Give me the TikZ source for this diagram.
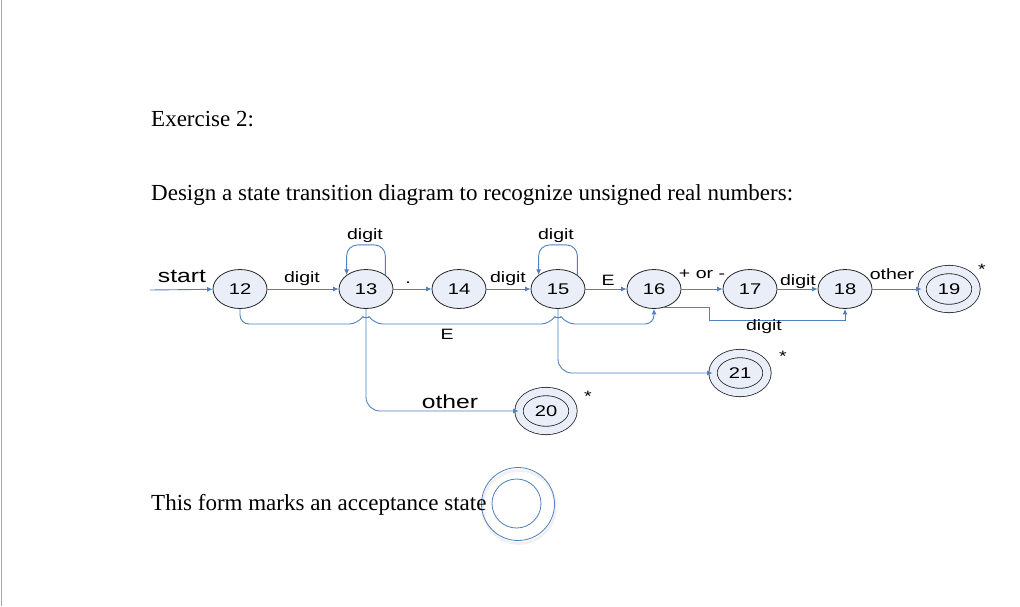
\documentclass[tikz,border=0pt]{standalone}
\usepackage{fontspec}
\setmainfont{Liberation Serif}
\newfontfamily\labfont[FakeStretch=1.3]{Liberation Sans}
\usetikzlibrary{shapes.geometric,arrows.meta}
\definecolor{edgeblue}{RGB}{79,129,189}
\definecolor{statefill}{RGB}{233,238,248}
\begin{document}
\begin{tikzpicture}[x=1pt,y=-1pt,
  state/.style={ellipse, draw=black!85, fill=statefill, line width=0.8pt,
    minimum width=54pt, minimum height=39pt, inner sep=0pt,
    font=\labfont\fontsize{15.5}{15.5}\selectfont},
  accept/.style={state, double=statefill, double distance=7.5pt, line width=0.8pt},
  conn/.style={draw=edgeblue, line width=0.9pt, -{Latex[length=5.5pt,width=5pt]}},
  lab/.style={font=\labfont\fontsize{15}{15}\selectfont, inner sep=0pt, anchor=base},
  biglab/.style={lab, font=\labfont\fontsize{19}{19}\selectfont},
  serif/.style={font=\fontsize{23}{27}\selectfont, inner sep=0pt, anchor=base west}]
\useasboundingbox (0,0) rectangle (1020,606);
\fill[white] (0,0) rectangle (1020,606);
\draw[black!35, line width=1.4pt] (1.2,0) -- (1.2,606);

% legend circle (drawn first, text lies over it)
\node[circle, draw=black!6, line width=2.5pt, minimum size=73pt, inner sep=0pt] (legshadow) at (519,507) {};
\node[circle, draw=edgeblue, line width=0.8pt, minimum size=73pt, inner sep=0pt] (leg) at (518,504) {};
\node[circle, draw=edgeblue, line width=0.8pt, minimum size=49pt, inner sep=0pt] (legin) at (516.5,503.5) {};

% texts
\node[serif] (t1) at (151,126) {Exercise 2:};
\node[serif] (t2) at (151,200) {Design a state transition diagram to recognize unsigned real numbers:};
\node[serif] (t3) at (151,510) {This form marks an acceptance state};

% states
\node[state] (12) at (240,289) {12};
\node[state] (13) at (366,289) {13};
\node[state] (14) at (459,289) {14};
\node[state] (15) at (558,289) {15};
\node[state] (16) at (654,289) {16};
\node[state] (17) at (750,289) {17};
\node[state] (18) at (845,289) {18};
\node[accept] (19) at (949,289) {19};
\node[accept] (20) at (546,411) {20};
\node[accept] (21) at (740,373) {21};

\coordinate (s0) at (150,290);

% main row
\draw[conn] (s0) -- (12);
\draw[conn] (12) -- (13);
\draw[conn] (13) -- (14);
\draw[conn] (14) -- (15);
\draw[conn] (15) -- (16);
\draw[conn] (16) -- (17);
\draw[conn] (17) -- (18);
\draw[conn] (18) -- (19);

% self loops
\draw[conn, rounded corners=11pt] (13.north east) -- ++(0,-30) -| (13.north west);
\draw[conn, rounded corners=11pt] (15.north east) -- ++(0,-30) -| (15.north west);

% lower connectors
\draw[conn, rounded corners=14pt] (13.south) |- (20.west);
\draw[conn, rounded corners=14pt] (15.south) |- (21.west);
\draw[conn, rounded corners=9pt] (12.south) |- (358,324)
  .. controls (362,318) and (370,318) .. (374,324) -- (550,324)
  .. controls (554,318) and (562,318) .. (566,324) -| (16.south);
\draw[conn] (16.-65) -| (709,320) -| (18.south);

% labels
\node[biglab] (lstart) at (182,282) {start};
\node[lab] (l1) at (302,282) {digit};
\node[lab] (l2) at (408,283) {.};
\node[lab] (l3) at (508,282) {digit};
\node[lab] (l4) at (365,239) {digit};
\node[lab] (l5) at (556,239) {digit};
\node[lab] (l6) at (608,285) {E};
\node[lab] (l7) at (702,278) {+ or -};
\node[lab] (l8) at (798,285) {digit};
\node[lab] (l9) at (892,279) {other};
\node[lab] (l10) at (764,330) {digit};
\node[lab] (l11) at (447,339) {E};
\node[biglab] (l12) at (450,408) {other};
\node[lab] (st19) at (982,274) {*};
\node[lab] (st21) at (783,361) {*};
\node[lab] (st20) at (588,401) {*};
\end{tikzpicture}
\end{document}
